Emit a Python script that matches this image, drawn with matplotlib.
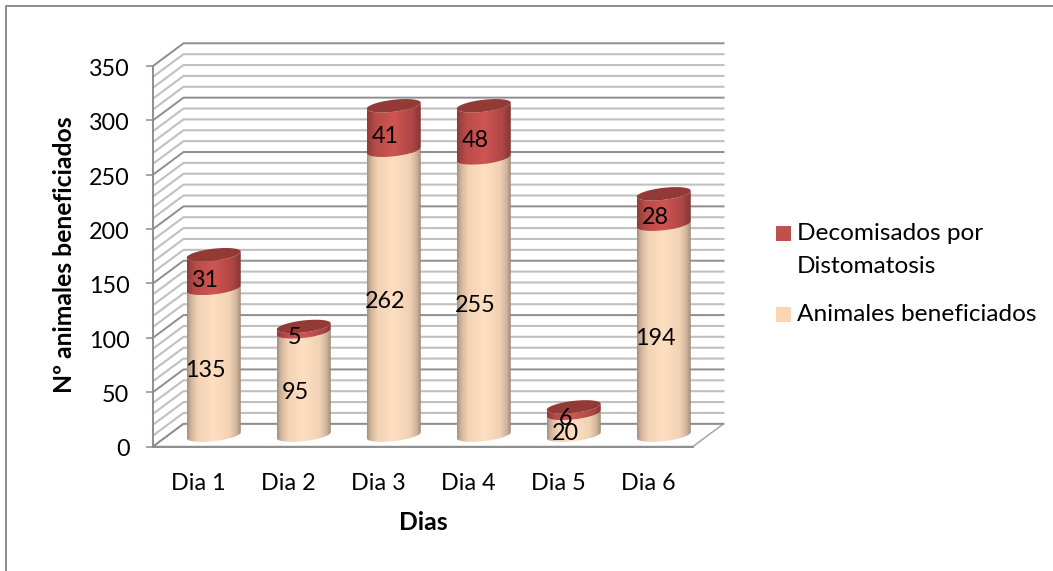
# -*- coding: utf-8 -*-
#recreating the 3D cylinder stacked chart with plain matplotlib
import numpy as np
import matplotlib
matplotlib.use("Agg")
import matplotlib.pyplot as plt
from matplotlib.colors import LinearSegmentedColormap
from matplotlib.lines import Line2D
from matplotlib.patches import Polygon, Rectangle
from matplotlib.transforms import ScaledTranslation

plt.rcParams['font.family'] = ['Lato', 'DejaVu Sans']

#data
dias = ["Dia 1", "Dia 2", "Dia 3", "Dia 4", "Dia 5", "Dia 6"]
beneficiados = [135, 95, 262, 255, 20, 194]
decomisados = [31, 5, 41, 48, 6, 28]
yticks_major = [0, 50, 100, 150, 200, 250, 300, 350]
yticks_minor = [10, 20, 30, 40, 60, 70, 80, 90, 110, 120, 130, 140, 160, 170, 180, 190,
                210, 220, 230, 240, 260, 270, 280, 290, 310, 320, 330, 340]

W, H = 1053, 571
PLOT_L, PLOT_R, PLOT_T, PLOT_B = 153, 693, 66, 446.5

fig = plt.figure(figsize=(W / 100, H / 100), dpi=100)
fig.patch.set_facecolor("white")
ax = fig.add_axes([PLOT_L / W, 1 - PLOT_B / H, (PLOT_R - PLOT_L) / W, (PLOT_B - PLOT_T) / H])
ax.patch.set_visible(False)
ax.set_xlim(0, 6)
ax.set_ylim(0, 350)

#depth of the fake 3D box and pixel to data factors
px_x = 6 / (PLOT_R - PLOT_L)
px_y = 350 / (PLOT_B - PLOT_T)
dx = 30.5 * px_x
dy = 22.7 * px_y

#floor
ax.add_patch(Polygon([(0, 0), (6, 0), (6 + dx, dy), (dx, dy)], closed=True, facecolor="white",
                     edgecolor="#A6A6A6", linewidth=1.1, zorder=1, clip_on=False))

#side wall and back wall lines
for v in yticks_minor:
    ax.plot([0, dx, 6 + dx], [v, v + dy, v + dy], color="#C0C0C0", lw=1.5, zorder=2, clip_on=False)
for v in yticks_major:
    ax.plot([0, dx, 6 + dx], [v, v + dy, v + dy], color="#8E8E8E", lw=1.4, zorder=3, clip_on=False)

#colours of the cylinder shading
cmap_peach = LinearSegmentedColormap.from_list("peach", [(0, "#A8927E"), (0.07, "#D2B69C"), (0.2, "#F2D3B6"),
                                                         (0.5, "#FFDFC1"), (0.8, "#F0D1B4"), (0.93, "#CFB49B"),
                                                         (1, "#A08B78")])
cmap_red = LinearSegmentedColormap.from_list("red", [(0, "#8F3B39"), (0.15, "#B84C49"), (0.5, "#CF5552"),
                                                     (0.85, "#AD4644"), (1, "#853634")])
TOP_COLOR = "#933936"

#ellipse shape of a cylinder section, in pixels
BAR_W = 54
SEMI_B = 6.0
TILT = 3.0
t_front = np.linspace(np.pi, 2 * np.pi, 60)


def front_arc(cx, level):
    x = cx + (BAR_W / 2) * px_x * np.cos(t_front)
    y = level + SEMI_B * px_y * np.sin(t_front) + TILT * px_y * np.cos(t_front)
    return x, y


def draw_segment(cx, low, high, cmap, z):
    xl, yl = front_arc(cx, low)
    xh, yh = front_arc(cx, high)
    pts = np.column_stack([np.r_[xl, xh[::-1]], np.r_[yl, yh[::-1]]])
    patch = Polygon(pts, closed=True, facecolor="none", edgecolor="none", transform=ax.transData, zorder=z)
    ax.add_patch(patch)
    half = (BAR_W / 2) * px_x
    img = ax.imshow(np.linspace(0, 1, 64).reshape(1, -1), cmap=cmap, aspect="auto", interpolation="bilinear",
                    extent=[cx - half, cx + half, pts[:, 1].min(), pts[:, 1].max()], zorder=z)
    img.set_clip_path(patch)


def draw_top(cx, level, z):
    t = np.linspace(0, 2 * np.pi, 120)
    x = cx + (BAR_W / 2) * px_x * np.cos(t)
    y = level + SEMI_B * px_y * np.sin(t) + TILT * px_y * np.cos(t)
    ax.add_patch(Polygon(np.column_stack([x, y]), closed=True, facecolor=TOP_COLOR, edgecolor="none", zorder=z))


for i in range(len(dias)):
    cx = i + 0.5 + dx / 2 + 0.5 * px_x
    base = dy / 2
    mid = base + beneficiados[i]
    top = mid + decomisados[i]
    draw_segment(cx, base, mid, cmap_peach, 5)
    draw_segment(cx, mid, top, cmap_red, 6)
    draw_top(cx, top, 7)

ax.set_xlim(0, 6)
ax.set_ylim(0, 350)

#value labels
LABEL_X = 7 * px_x
LABEL_Y = 2.6 * px_y
for i in range(len(dias)):
    ax.text(i + 0.5 + LABEL_X, beneficiados[i] / 2 + LABEL_Y, str(beneficiados[i]), ha="center", va="center",
            fontsize=16.8, color="black", zorder=10)
    ax.text(i + 0.5 + LABEL_X, beneficiados[i] + decomisados[i] / 2 + LABEL_Y, str(decomisados[i]), ha="center",
            va="center", fontsize=16.8, color="black", zorder=10)

#axes
for s in ["top", "right"]:
    ax.spines[s].set_visible(False)
for s in ["left", "bottom"]:
    ax.spines[s].set_color("#8E8E8E")
    ax.spines[s].set_linewidth(1.4)
    ax.spines[s].set_zorder(4)
ax.set_yticks(yticks_major)
ax.set_xticks(np.arange(len(dias)) + 0.5, dias)
ax.tick_params(axis="y", length=5, width=1.1, color="#8E8E8E", pad=12, labelsize=16.8)
ax.tick_params(axis="x", length=0, pad=19, labelsize=16.8)

#tick labels sit a little lower than the tick marks in the picture
for lab in ax.get_yticklabels():
    lab.set_transform(lab.get_transform() + ScaledTranslation(0, -1.5 / 100, fig.dpi_scale_trans))

ax.set_ylabel("Nº animales beneficiados", fontsize=17.8, fontweight="bold", labelpad=0)
ax.yaxis.set_label_coords((65 - PLOT_L) / (PLOT_R - PLOT_L), (PLOT_B - 255) / (PLOT_B - PLOT_T))
ax.set_xlabel("Dias", fontsize=17.8, fontweight="bold")
ax.xaxis.set_label_coords((423 - PLOT_L) / (PLOT_R - PLOT_L), (PLOT_B - 522) / (PLOT_B - PLOT_T))
ax.xaxis.label.set_verticalalignment("center")
ax.yaxis.label.set_verticalalignment("center")

#legend drawn by hand so the square stays on the first line
fig.add_artist(Rectangle((776 / W, 1 - 241 / H), 15 / W, 15 / H, facecolor="#C0504D", edgecolor="none",
                         transform=fig.transFigure))
fig.add_artist(Rectangle((776 / W, 1 - 322 / H), 15 / W, 15 / H, facecolor="#FCD5B5", edgecolor="none",
                         transform=fig.transFigure))
fig.text(797 / W, 1 - 234 / H, "Decomisados por", fontsize=17.6, va="center", ha="left")
fig.text(797 / W, 1 - 266.5 / H, "Distomatosis", fontsize=17.6, va="center", ha="left")
fig.text(797 / W, 1 - 314.5 / H, "Animales beneficiados", fontsize=17.6, va="center", ha="left")

#outer chart border, only left and top reach inside the picture
fig.add_artist(Line2D([6 / W, 6 / W, 1], [0, 1 - 6 / H, 1 - 6 / H], color="#8C8C8C", linewidth=1.4,
                      transform=fig.transFigure))

plt.savefig("out.png", dpi=100)
